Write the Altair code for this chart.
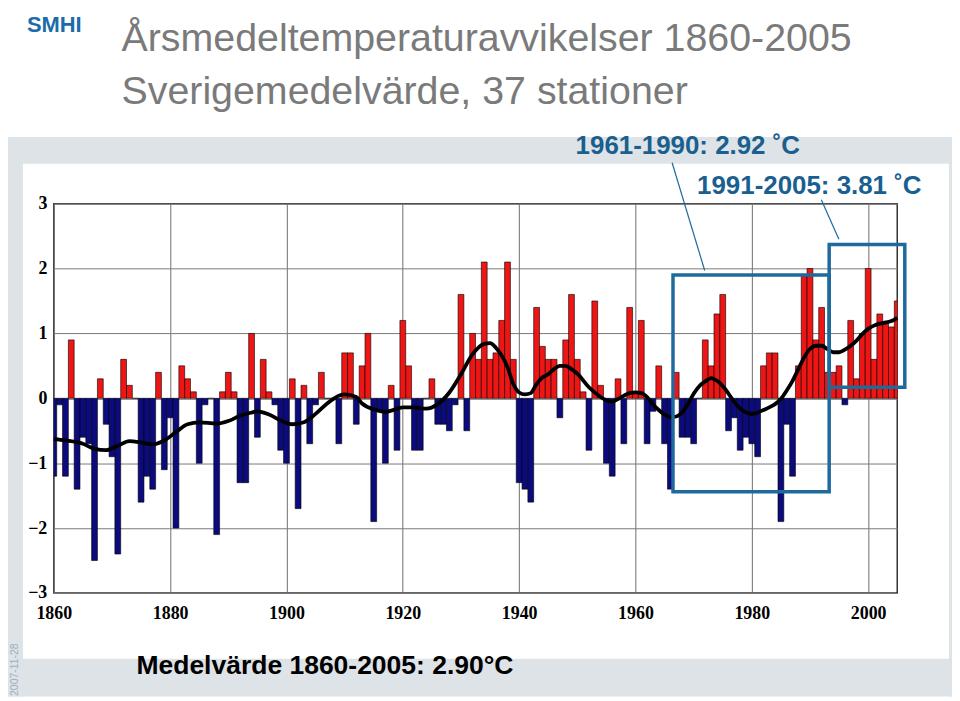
import altair as alt
import pandas as pd

# ---- data ----
years = list(range(1860, 2006))
anomalies = [
    -1.2, -0.1, -1.2, 0.9, -1.4, -0.6, -0.7, -2.5, 0.3, -0.4,   # 1860-1869
    -0.9, -2.4, 0.6, 0.2, 0.0, -1.6, -1.2, -1.4, 0.4, -1.1,     # 1870-1879
    -0.3, -2.0, 0.5, 0.3, 0.1, -1.0, -0.1, 0.0, -2.1, 0.1,      # 1880-1889
    0.4, 0.1, -1.3, -1.3, 1.0, -0.6, 0.6, 0.1, -0.1, -0.8,      # 1890-1899
    -1.0, 0.3, -1.7, 0.2, -0.7, -0.1, 0.4, 0.0, 0.0, -0.7,      # 1900-1909
    0.7, 0.7, -0.4, 0.5, 1.0, -1.9, -0.2, -1.0, 0.2, -0.8,      # 1910-1919
    1.2, 0.5, -0.8, -0.8, 0.0, 0.3, -0.4, -0.4, -0.5, -0.1,     # 1920-1929
    1.6, -0.5, 1.0, 0.6, 2.1, 0.6, 0.7, 1.2, 2.1, 0.6,          # 1930-1939
    -1.3, -1.4, -1.6, 1.4, 0.8, 0.6, 0.6, -0.3, 0.9, 1.6,       # 1940-1949
    0.6, 0.1, -0.8, 1.5, 0.2, -1.0, -1.2, 0.3, -0.7, 1.4,       # 1950-1959
    0.1, 1.2, -0.7, -0.2, 0.5, -0.7, -1.4, 0.4, -0.6, -0.6,     # 1960-1969
    -0.7, 0.0, 0.9, 0.5, 1.3, 1.6, -0.5, -0.3, -0.8, -0.6,      # 1970-1979
    -0.7, -0.9, 0.5, 0.7, 0.7, -1.9, -0.4, -1.2, 0.5, 1.9,      # 1980-1989
    2.0, 0.9, 1.4, 0.4, 0.4, 0.5, -0.1, 1.2, 0.3, 1.0,          # 1990-1999
    2.0, 0.6, 1.3, 1.15, 1.1, 1.5,                              # 2000-2005
]
assert len(anomalies) == len(years)

smooth_years = [1860, 1862, 1865, 1867, 1869, 1871, 1873, 1875, 1877, 1879,
                1881, 1883, 1885, 1888, 1890, 1892, 1894, 1895, 1897, 1899,
                1901, 1903, 1905, 1907, 1909, 1910, 1912, 1913, 1915, 1917,
                1918, 1920, 1922, 1924, 1926, 1928, 1930, 1932, 1934, 1935,
                1936, 1938, 1939, 1940, 1941, 1942, 1943, 1944, 1945, 1946,
                1947, 1948, 1949, 1950, 1952, 1954, 1955, 1956, 1957, 1958,
                1959, 1960, 1961, 1962, 1963, 1964, 1965, 1966, 1967, 1968,
                1969, 1970, 1971, 1972, 1973, 1974, 1975, 1976, 1977, 1978,
                1979, 1980, 1981, 1982, 1983, 1984, 1985, 1986, 1987, 1988,
                1989, 1990, 1991, 1992, 1993, 1994, 1995, 1996, 1997, 1998,
                1999, 2000, 2001, 2002, 2003, 2004, 2005]
smooth_values = [-0.63, -0.65, -0.70, -0.78, -0.80, -0.73, -0.66, -0.68, -0.71, -0.65,
                 -0.52, -0.40, -0.37, -0.39, -0.35, -0.27, -0.22, -0.20, -0.25, -0.34,
                 -0.40, -0.37, -0.24, -0.08, 0.04, 0.06, 0.02, -0.08, -0.17, -0.21,
                 -0.19, -0.14, -0.14, -0.16, -0.09, 0.09, 0.37, 0.68, 0.84, 0.85,
                 0.78, 0.48, 0.22, 0.09, 0.06, 0.08, 0.22, 0.32, 0.37, 0.45,
                 0.50, 0.50, 0.45, 0.38, 0.17, 0.02, -0.03, -0.05, -0.01, 0.04,
                 0.08, 0.09, 0.08, 0.02, -0.09, -0.18, -0.25, -0.29, -0.28, -0.22,
                 -0.09, 0.07, 0.19, 0.26, 0.31, 0.27, 0.19, 0.07, -0.06, -0.16,
                 -0.22, -0.24, -0.22, -0.18, -0.14, -0.09, -0.01, 0.12, 0.27, 0.45,
                 0.63, 0.76, 0.81, 0.81, 0.76, 0.71, 0.71, 0.75, 0.81, 0.89,
                 0.99, 1.07, 1.12, 1.15, 1.17, 1.19, 1.24]
assert len(smooth_years) == len(smooth_values)

x_ticks = [1860, 1880, 1900, 1920, 1940, 1960, 1980, 2000]
y_ticks = [-3, -2, -1, 0, 1, 2, 3]

title_line1 = "Årsmedeltemperaturavvikelser 1860-2005"
title_line2 = "Sverigemedelvärde, 37 stationer"
label_period1 = "1961-1990: 2.92 ˚C"
label_period2 = "1991-2005: 3.81 ˚C"
label_mean = "Medelvärde 1860-2005: 2.90°C"
label_date = "2007-11-28"
logo = "SMHI"

bars_df = pd.DataFrame({"year": years, "anomaly": anomalies})
smooth_df = pd.DataFrame({"year": smooth_years, "value": smooth_values})
one = pd.DataFrame({"k": [0]})

# ---- styling ----
RED = "#ee1515"
NAVY = "#0b0b7e"
FRAME_GREY = "#dde3e6"
BOX_BLUE = "#1f6a9c"
TEXT_BLUE = "#1a5f8f"
SERIF = "Liberation Serif"
SANS = "Liberation Sans"

xs = alt.Scale(domain=[1860, 2005], nice=False, zero=False)
ys = alt.Scale(domain=[-3, 3], nice=False, zero=False)

x_axis = alt.Axis(values=x_ticks, format="d", labelFont=SERIF, labelFontSize=18,
                  labelFontWeight="bold", labelColor="black", ticks=False, domain=False,
                  grid=True, gridColor="#6f6f6f", gridWidth=1, labelPadding=12,
                  labelFlush=False, labelOverlap=False)
y_axis = alt.Axis(values=y_ticks, format="d", labelFont=SERIF, labelFontSize=18,
                  labelFontWeight="bold", labelColor="black", ticks=False, domain=False,
                  grid=True, gridColor="#7a7a7a", gridWidth=1, labelPadding=7,
                  labelFlush=False, labelOverlap=False)


def band(x, x2, y, y2):
    return alt.Chart(one).mark_rect(color=FRAME_GREY).encode(
        x=alt.value(x), x2=alt.value(x2), y=alt.value(y), y2=alt.value(y2))


def label(text, x, y, size, color, weight="normal", font=SANS, align="left", angle=0,
          baseline="alphabetic"):
    return alt.Chart(one).mark_text(
        text=text, fontSize=size, color=color, fontWeight=weight, font=font,
        align=align, baseline=baseline, angle=angle,
    ).encode(x=alt.value(x), y=alt.value(y))


frame = [
    band(-49, 902, -67, -40),     # top
    band(-49, -31, -67, 495),     # left
    band(899, 902, -67, 495),     # right
    band(-49, 902, 457, 495),     # bottom
]

bars = alt.Chart(bars_df).transform_calculate(
    x0="datum.year - 0.5", x1="datum.year + 0.5"
).mark_rect(clip=True, stroke="black", strokeWidth=0.6).encode(
    x=alt.X("x0:Q", scale=xs, axis=x_axis, title=None),
    x2="x1:Q",
    y=alt.Y("anomaly:Q", scale=ys, axis=y_axis, title=None),
    y2=alt.datum(0),
    color=alt.condition(alt.datum.anomaly > 0, alt.value(RED), alt.value(NAVY)),
)

curve = alt.Chart(smooth_df).mark_line(color="black", strokeWidth=3.8,
                                       interpolate="monotone").encode(
    x=alt.X("year:Q", scale=xs, title=None),
    y=alt.Y("value:Q", scale=ys, title=None),
)

box1 = alt.Chart(one).mark_rect(fillOpacity=0, stroke=BOX_BLUE, strokeWidth=3.5).encode(
    x=alt.datum(1966.45), x2=alt.datum(1993.3), y=alt.datum(1.90), y2=alt.datum(-1.44))
box2 = alt.Chart(one).mark_rect(fillOpacity=0, stroke=BOX_BLUE, strokeWidth=3.5).encode(
    x=alt.datum(1993.3), x2=alt.datum(2006.3), y=alt.datum(2.37), y2=alt.datum(0.17))
lead1 = alt.Chart(one).mark_rule(color=BOX_BLUE, strokeWidth=1.2).encode(
    x=alt.datum(1966.3), x2=alt.datum(1971.9), y=alt.datum(3.63), y2=alt.datum(1.97))
lead2 = alt.Chart(one).mark_rule(color=BOX_BLUE, strokeWidth=1.2).encode(
    x=alt.datum(1991.95), x2=alt.datum(1994.97), y=alt.datum(3.06), y2=alt.datum(2.45))

texts = [
    label(logo, -27, -172, 22, "#1b6ca8", weight="bold"),
    label(title_line1, 68, -153, 39.5, "#7a7a7a"),
    label(title_line2, 68, -100, 39.5, "#7a7a7a"),
    label(label_period1, 524, -49.5, 26, TEXT_BLUE, weight="bold"),
    label(label_period2, 646, -10, 26, TEXT_BLUE, weight="bold"),
    label(label_mean, 83, 472, 26.6, "black", weight="bold"),
    label(label_date, -39, 468, 10.5, "#9fb0c0", align="center", angle=270, baseline="middle"),
]

chart = alt.layer(
    *frame, bars, curve, box1, box2, lead1, lead2, *texts
).properties(
    width=847, height=391,
    autosize=alt.AutoSizeParams(type="none"),
    padding={"left": 46, "top": 195, "right": 55, "bottom": 104},
    background="white",
).configure_view(stroke="#333333", strokeWidth=1.5)

chart.save("out.html", embed_options={"renderer": "svg", "actions": False})
